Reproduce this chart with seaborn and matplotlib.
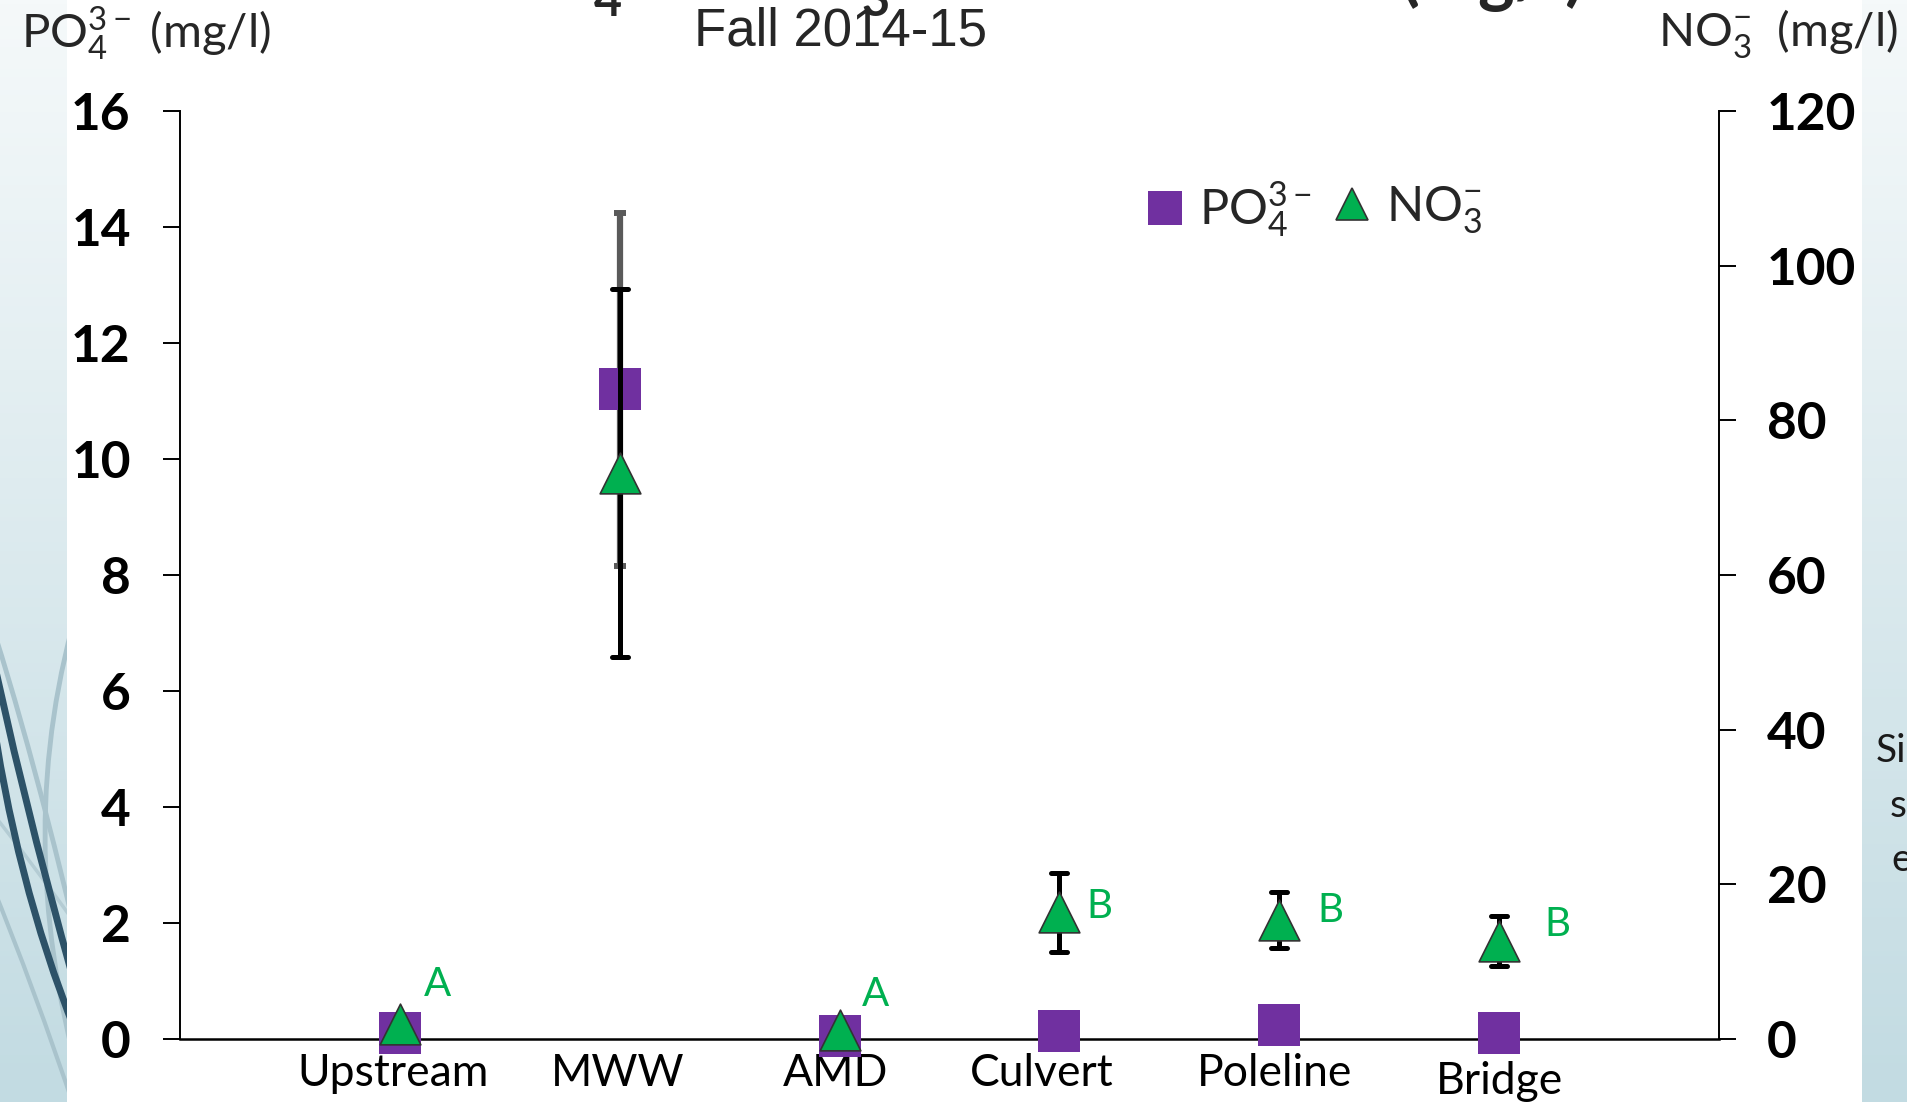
import numpy as np
import pandas as pd
import matplotlib
matplotlib.use("Agg")
import matplotlib.pyplot as plt
import seaborn as sns
from matplotlib.lines import Line2D
from matplotlib.path import Path
from matplotlib.patches import PathPatch
from matplotlib.markers import MarkerStyle
from matplotlib.transforms import ScaledTranslation
from matplotlib.colors import LinearSegmentedColormap

# ---- data -------------------------------------------------------------
sites = ["Upstream", "MWW", "AMD", "Culvert", "Poleline", "Bridge"]
po4_mean = [0.10, 11.2, 0.05, 0.14, 0.24, 0.10]      # mg/l
po4_err = [0.0, 3.05, 0.0, 0.0, 0.0, 0.0]
no3_mean = [1.9, 73.2, 1.1, 16.4, 15.4, 12.7]        # mg/l
no3_err = [0.0, 23.8, 0.0, 5.1, 3.6, 3.25]
no3_group = ["A", "", "A", "B", "B", "B"]

po4_ticks = [0, 2, 4, 6, 8, 10, 12, 14, 16]
no3_ticks = [0, 20, 40, 60, 80, 100, 120]

# ---- style ------------------------------------------------------------
sns.set_style("white")
plt.rcParams["font.family"] = ["Lato", "DejaVu Sans"]
plt.rcParams["mathtext.fontset"] = "custom"
plt.rcParams["mathtext.rm"] = "Lato"
plt.rcParams["mathtext.it"] = "Lato:italic"
plt.rcParams["mathtext.bf"] = "Lato:bold"

PURPLE = "#7030A0"
GREEN = "#00B050"
EDGE = "#333333"
W, H = 1908, 1102

fig = plt.figure(figsize=(W / 100, H / 100), dpi=100)
fig.patch.set_facecolor("white")

# ---- slide background strips -------------------------------------------
strip_cmap = LinearSegmentedColormap.from_list("strip", ["#F5F9FA", "#C2DBE2"])
grad = np.linspace(0, 1, 256)[:, None]


def strip(x0, x1):
    a = fig.add_axes([x0 / W, 0, (x1 - x0) / W, 1], zorder=-5)
    a.imshow(grad, cmap=strip_cmap, extent=[x0, x1, H, 0], aspect="auto")
    a.set_xlim(x0, x1)
    a.set_ylim(H, 0)
    a.axis("off")
    return a


left_bg = strip(0, 67)
strip(1862, W)

# decorative swooshes in the left strip
swooshes = [
    ([(-30, 560), (20, 700), (75, 930)], "#A9C3CC", 3.5),
    ([(80, 600), (10, 830), (80, 1080)], "#A9C3CC", 3.5),
    ([(-10, 810), (30, 860), (80, 930)], "#B4CCD4", 2.5),
    ([(-10, 880), (35, 990), (75, 1110)], "#A9C3CC", 3.0),
    ([(-15, 620), (20, 790), (75, 985)], "#2D5268", 5.0),
    ([(-10, 700), (15, 880), (75, 1030)], "#2D5268", 5.0),
]
for pts, col, lw in swooshes:
    p = Path(pts, [Path.MOVETO, Path.CURVE3, Path.CURVE3])
    left_bg.add_patch(PathPatch(p, facecolor="none", edgecolor=col, lw=lw,
                                capstyle="butt"))

# ---- main axes ----------------------------------------------------------
ax = fig.add_axes([180 / W, 1 - 1039 / H, (1719 - 180) / W, (1039 - 111) / H])
ax.set_facecolor("white")
ax2 = ax.twinx()

pos = np.arange(len(sites))
df = pd.DataFrame({"site": sites, "pos": pos, "po4": po4_mean,
                   "po4_err": po4_err, "no3": no3_mean, "no3_err": no3_err})

# phosphate: grey error bars below purple squares
e_po4 = df[df["po4_err"] > 0]
ax.errorbar(e_po4["pos"], e_po4["po4"], yerr=e_po4["po4_err"],
            fmt="none", ecolor="#5A5A5A", elinewidth=4.5,
            capsize=4.3, capthick=4.3, zorder=2)
sns.scatterplot(data=df, x="pos", y="po4", marker="s", s=900, color=PURPLE,
                edgecolor=PURPLE, linewidth=0, ax=ax, zorder=3, legend=False)
ax.collections[-1].set_clip_on(False)

# nitrate: black error bars below green triangles
e_no3 = df[df["no3_err"] > 0]
_, caps2, _ = ax2.errorbar(e_no3["pos"], e_no3["no3"], yerr=e_no3["no3_err"],
                           fmt="none", ecolor="black", elinewidth=3.6,
                           capsize=6, capthick=3.6, zorder=2)
for c in caps2:
    c.set_marker(MarkerStyle("_", capstyle="round"))
sns.scatterplot(data=df, x="pos", y="no3", marker="^", s=860, color=GREEN,
                edgecolor=EDGE, linewidth=1.2, ax=ax2, zorder=3, legend=False)
ax2.collections[-1].set_clip_on(False)

# group letters next to the nitrate points
letter_offsets = [(27, 29), (0, 0), (26, 26), (29, 4), (37, 7), (42, 12)]
for i, letter in enumerate(no3_group):
    if letter:
        ax2.annotate(letter, xy=(pos[i], no3_mean[i]), xytext=letter_offsets[i],
                     textcoords="offset points", ha="center", va="center",
                     color=GREEN, fontsize=29)

# ---- axes styling -------------------------------------------------------
ax.set_xlim(-1, 6)
ax.set_ylim(0, 16)
ax2.set_ylim(0, 120)
ax.set_xlabel("")
ax.set_ylabel("")
ax2.set_xlabel("")
ax2.set_ylabel("")

ax.set_yticks(po4_ticks, labels=[str(t) for t in po4_ticks],
              fontsize=37, fontweight="bold")
ax2.set_yticks(no3_ticks, labels=[str(t) for t in no3_ticks],
               fontsize=37, fontweight="bold")
ax.set_xticks(pos, labels=sites, fontsize=32)

ax.tick_params(axis="y", direction="out", length=12.5, width=1.4, pad=23,
               colors="black", left=True)
ax2.tick_params(axis="y", direction="out", length=12.5, width=1.4, pad=22,
                colors="black", right=True)
ax.tick_params(axis="x", length=0, pad=10, colors="black")

label_shift = [(-7, 0), (-2, 0), (-4, 0), (-18, 0), (-5, 0), (0, -8)]
for lab, (dx, dy) in zip(ax.get_xticklabels(), label_shift):
    lab.set_transform(lab.get_transform()
                      + ScaledTranslation(dx / 100, dy / 100, fig.dpi_scale_trans))

for a in (ax, ax2):
    a.spines["top"].set_visible(False)
    a.grid(False)
ax.spines["right"].set_visible(False)
ax.spines["left"].set_linewidth(1.4)
ax.spines["left"].set_color("black")
ax.spines["bottom"].set_linewidth(1.8)
ax.spines["bottom"].set_color("black")
ax2.spines["left"].set_visible(False)
ax2.spines["bottom"].set_visible(False)
ax2.spines["right"].set_linewidth(1.4)
ax2.spines["right"].set_color("black")

# ---- legend -------------------------------------------------------------
h_po4 = Line2D([], [], ls="none", marker="s", ms=24, color=PURPLE, mew=0)
h_no3 = Line2D([], [], ls="none", marker="^", ms=23, color=GREEN,
               markeredgecolor=EDGE, mew=1.2)
for h, txt, x in [(h_po4, r"$\mathrm{PO}_4^{3-}$", 1146),
                  (h_no3, r"$\mathrm{NO}_3^{-}$", 1333)]:
    fig.legend([h], [txt], loc="center left", bbox_to_anchor=(x / W, 1 - 210 / H),
               frameon=False, fontsize=35, handlelength=0.8, handletextpad=0.3,
               borderpad=0, borderaxespad=0)

# ---- texts around the plot ---------------------------------------------
fig.text(21 / W, 1 - 33 / H, r"$\mathrm{PO}_4^{3-}$ (mg/l)", fontsize=34,
         ha="left", va="center")
fig.text(1898 / W, 1 - 33 / H, r"$\mathrm{NO}_3^{-}$  (mg/l)", fontsize=34,
         ha="right", va="center")
fig.text(841 / W, 1 - 32 / H, "Fall 2014-15", fontsize=38,
         family=["Liberation Sans", "DejaVu Sans"], ha="center", va="center")
fig.text(494 / W, 1 + 2 / H,
         r"$\mathbf{PO}_\mathbf{4}^\mathbf{3-}$ & $\mathbf{NO}_\mathbf{3}^\mathbf{-}$ Concentrations (mg/l)",
         fontsize=50, fontweight="bold", ha="left", va="baseline")
for txt, x, y in [("Si", 1876, 751), ("s", 1890, 806), ("e", 1891, 860)]:
    fig.text(x / W, 1 - y / H, txt, fontsize=28, ha="left", va="center",
             color="#1A1A1A")

fig.savefig("out.png", dpi=100)
